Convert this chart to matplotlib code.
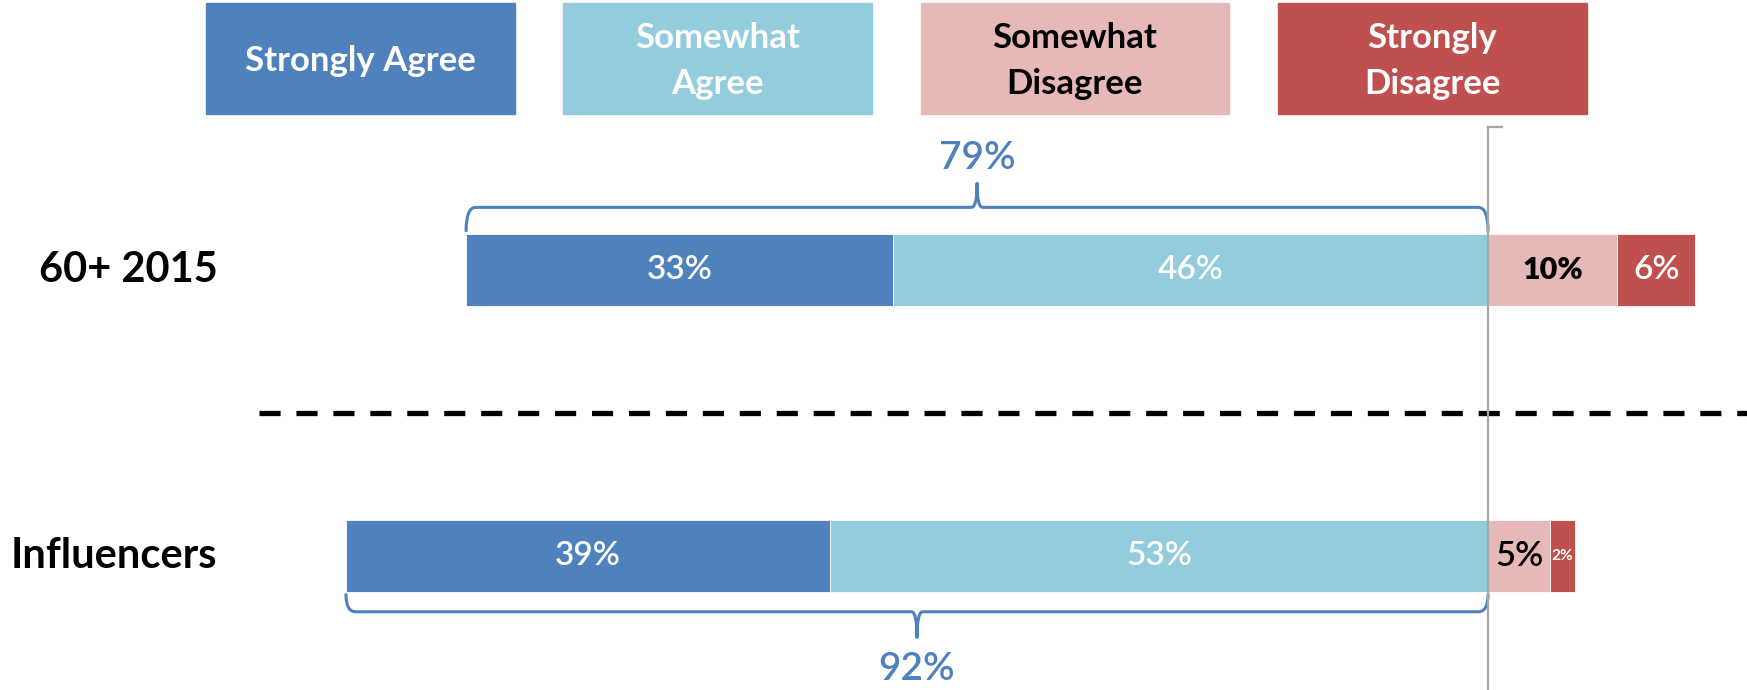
import numpy as np
import matplotlib.pyplot as plt
from matplotlib.patches import Rectangle
from matplotlib.path import Path
from matplotlib.patches import PathPatch

plt.rcParams['font.family'] = ['Lato', 'DejaVu Sans']

# data
groups = ['60+ 2015', 'Influencers']
strongly_agree = np.array([33, 39])
somewhat_agree = np.array([46, 53])
somewhat_disagree = np.array([10, 5])
strongly_disagree = np.array([6, 2])
agree_total = np.array([79, 92])

legend_labels = ['Strongly Agree', 'Somewhat\nAgree', 'Somewhat\nDisagree', 'Strongly\nDisagree']
colors = ['#4F81BD', '#93CDDD', '#E6B9B8', '#C0504D']
legend_text_colors = ['white', 'white', 'black', 'white']

# each bar is drawn as a share of its row total (100% stacked)
row_total = strongly_agree + somewhat_agree + somewhat_disagree + strongly_disagree
sa = strongly_agree / row_total * 100
swa = somewhat_agree / row_total * 100
swd = somewhat_disagree / row_total * 100
sd = strongly_disagree / row_total * 100

W, H = 1747, 690
fig = plt.figure(figsize=(W / 100, H / 100), dpi=100)
ax = fig.add_axes([0, 0, 1, 1])
ax.set_xlim(-121.08, 21.07)
ax.set_ylim(-0.4685, 1.944)
ax.axis('off')

y = np.array([1, 0])
bh = 0.25
ax.barh(y, -swa, left=0, height=bh, color=colors[1], edgecolor='white', linewidth=0.6)
ax.barh(y, -sa, left=-swa, height=bh, color=colors[0], edgecolor='white', linewidth=0.6)
ax.barh(y, swd, left=0, height=bh, color=colors[2], edgecolor='white', linewidth=0.6)
ax.barh(y, sd, left=swd, height=bh, color=colors[3], edgecolor='white', linewidth=0.6)

# segment labels
for i in range(2):
    ax.text(-swa[i] - sa[i] / 2, y[i], f'{strongly_agree[i]}%', ha='center', va='center',
            color='white', fontsize=24, fontweight='semibold')
    ax.text(-swa[i] / 2, y[i], f'{somewhat_agree[i]}%', ha='center', va='center',
            color='white', fontsize=24, fontweight='semibold')
ax.text(swd[0] / 2, y[0], f'{somewhat_disagree[0]}%', ha='center', va='center',
        color='black', fontsize=22, fontweight='heavy')
ax.text(swd[0] + sd[0] / 2, y[0], f'{strongly_disagree[0]}%', ha='center', va='center',
        color='white', fontsize=24, fontweight='semibold')
ax.text(swd[1] / 2, y[1], f'{somewhat_disagree[1]}%', ha='center', va='center',
        color='black', fontsize=25, fontweight='semibold')
ax.text(swd[1] + sd[1] / 2, y[1], f'{strongly_disagree[1]}%', ha='center', va='center',
        color='white', fontsize=11, fontweight='bold')

# group labels
for i in range(2):
    ax.text(-103.4, y[i], groups[i], ha='right', va='center', fontsize=30, fontweight='bold')


def bracket(x0, x1, yl, yh, yt, r=0.8, r2=0.45):
    # curly-ish bracket: hooks at the ends, a small cusp in the middle
    mid = (x0 + x1) / 2
    verts = [(x0, yh), (x0, yl), (x0 + r, yl), (mid - r2, yl), (mid, yl), (mid, yt),
             (mid, yl), (mid + r2, yl), (x1 - r, yl), (x1, yl), (x1, yh)]
    codes = [Path.MOVETO, Path.CURVE3, Path.CURVE3, Path.LINETO, Path.CURVE3, Path.CURVE3,
             Path.CURVE3, Path.CURVE3, Path.LINETO, Path.CURVE3, Path.CURVE3]
    ax.add_patch(PathPatch(Path(verts, codes), fill=False, edgecolor='#4F81BD', lw=2.2,
                           capstyle='round', joinstyle='round'))


agree_share = sa + swa
top = y[0] + bh / 2
bracket(-agree_share[0], 0, top + 0.094, top + 0.012, top + 0.178)
ax.text(-agree_share[0] / 2, 1.39, f'{agree_total[0]}%', ha='center', va='center',
        color='#4F81BD', fontsize=28, fontweight='semibold')
bot = y[1] - bh / 2
bracket(-agree_share[1], 0, bot - 0.07, bot - 0.01, bot - 0.16)
ax.text(-agree_share[1] / 2, -0.395, f'{agree_total[1]}%', ha='center', va='center',
        color='#4F81BD', fontsize=28, fontweight='semibold')

# zero line with small top tick
ax.plot([0, 0], [-0.4685, 1.5], color='#A6A6A6', lw=1.6, zorder=5)
ax.plot([0, 1.15], [1.5, 1.5], color='#A6A6A6', lw=1.6, zorder=5)

# dashed separator
ax.plot([-100, 21.07], [0.5, 0.5], color='black', lw=3.8, linestyle=(0, (4, 3)),
        solid_capstyle='butt', dash_capstyle='butt')

# legend boxes across the top
for i, lab in enumerate(legend_labels):
    x0 = 206 + i * 357.3
    fig.add_artist(Rectangle((x0 / W, 1 - 113.6 / H), 308.6 / W, 110.3 / H,
                             transform=fig.transFigure, color=colors[i]))
    fig.text((x0 + 154.3) / W, 1 - 61 / H, lab, ha='center', va='center',
             color=legend_text_colors[i], fontsize=25, fontweight='bold', linespacing=1.5)

fig.savefig('out.png', dpi=100)
